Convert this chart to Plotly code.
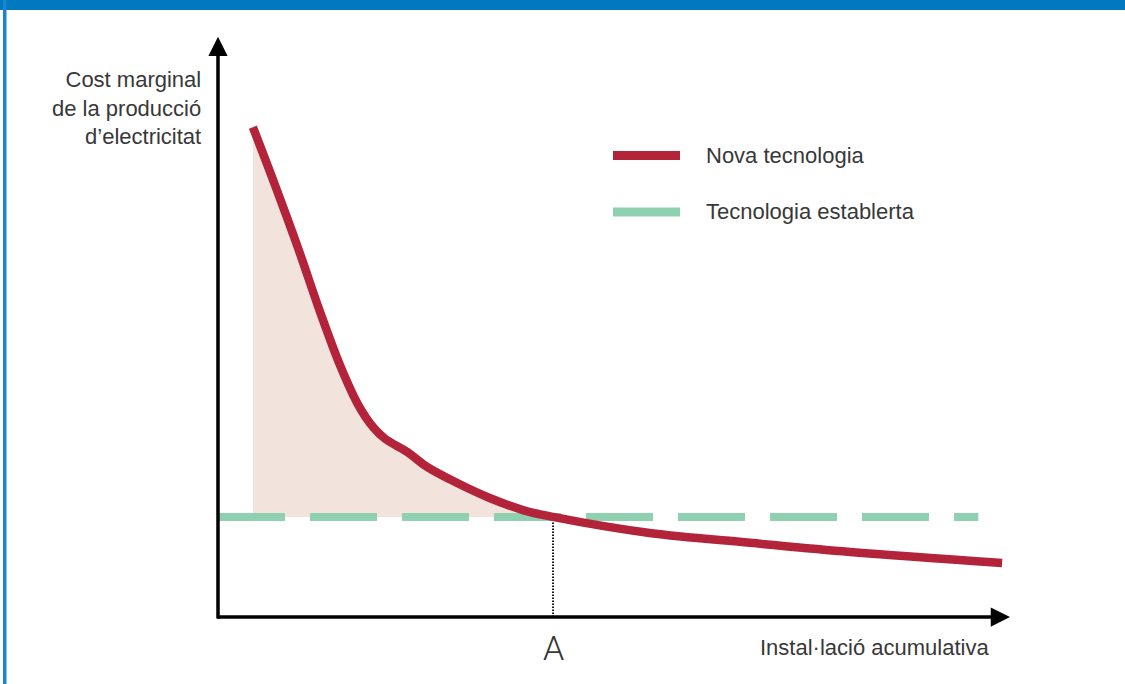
import plotly.graph_objects as go

# ---------------- data (arbitrary units) ----------------
install = [4.4, 7.2, 10.1, 12.9, 15.4, 17.7, 19.6, 21.1, 23.9, 26.4, 30.2, 34.3,
           38.5, 42.3, 54.5, 67.2, 79.8, 99.0]
cost_new = [85.2, 75.1, 64.2, 53.0, 43.8, 36.9, 33.0, 31.0, 28.7, 26.1, 23.3, 20.7,
            18.6, 17.4, 14.6, 12.9, 11.3, 9.4]
cost_established = 17.4
established_x = [0, 96.0]
point_A = 42.3
series_names = ["Nova tecnologia", "Tecnologia establerta"]
y_label = ["Cost marginal", "de la producció", "d’electricitat"]
x_label = "Instal·lació acumulativa"
A_label = "A"
x_axis_end = 100.0
y_axis_end = 100.9

# ---------------- style ----------------
RED = "#b3243a"
GREEN = "#8fd0b1"
FILL = "#f2e4dd"
BLUE = "#0079c1"
TXT = "#383838"
FONT = "Liberation Sans, Arial, sans-serif"

W, H = 1125, 684
L, R, T, B = 208, 105, 30, 57
XR = [-1.263, 101.263]
YR = [-1.739, 102.087]


def pxx(p):
    return (p - L) / (W - L - R)


def pyy(p):
    return (H - B - p) / (H - T - B)


n_fill = install.index(point_A) + 1

fig = go.Figure()

# shaded area between new technology curve and established cost
fig.add_trace(go.Scatter(x=[install[0], point_A], y=[cost_established, cost_established],
                         mode="lines", line=dict(width=0, color=FILL),
                         showlegend=False, hoverinfo="skip"))
fig.add_trace(go.Scatter(x=install[:n_fill], y=cost_new[:n_fill], mode="lines",
                         line=dict(width=0, color=FILL, shape="spline", smoothing=1.0),
                         fill="tonexty", fillcolor=FILL,
                         showlegend=False, hoverinfo="skip"))

# dotted vertical at A
fig.add_trace(go.Scatter(x=[point_A, point_A], y=[0, cost_established], mode="lines",
                         line=dict(width=1.8, color="black", dash="1.5px,1.5px"),
                         showlegend=False, hoverinfo="skip"))

# established technology
fig.add_trace(go.Scatter(x=established_x, y=[cost_established] * len(established_x),
                         mode="lines", name=series_names[1],
                         line=dict(width=8, color=GREEN, dash="67px,25px"),
                         showlegend=False))

# new technology
fig.add_trace(go.Scatter(x=install, y=cost_new, mode="lines", name=series_names[0],
                         line=dict(width=8.5, color=RED, shape="spline", smoothing=1.0),
                         showlegend=False))

annotations = []
# axis arrows
annotations.append(dict(x=0, y=y_axis_end, ax=0, ay=-0.5, xref="x", yref="y",
                        axref="x", ayref="y", showarrow=True, arrowhead=2,
                        arrowsize=1.1, arrowwidth=3.5, arrowcolor="black",
                        standoff=0, text=""))
annotations.append(dict(x=x_axis_end, y=0, ax=-0.3, ay=0, xref="x", yref="y",
                        axref="x", ayref="y", showarrow=True, arrowhead=2,
                        arrowsize=1.1, arrowwidth=3.5, arrowcolor="black",
                        standoff=0, text=""))

# y-axis label
annotations.append(dict(x=pxx(203), y=pyy(108), xref="paper", yref="paper",
                        text="<br>".join(y_label), showarrow=False,
                        xanchor="right", yanchor="middle", align="right",
                        font=dict(family=FONT, size=22, color=TXT)))
# x-axis label
annotations.append(dict(x=pxx(991), y=pyy(647), xref="paper", yref="paper",
                        text=x_label, showarrow=False, xanchor="right",
                        yanchor="middle", font=dict(family=FONT, size=22, color=TXT)))
# A label
annotations.append(dict(x=point_A, y=pyy(648), xref="x", yref="paper",
                        text=A_label, showarrow=False, xanchor="center",
                        yanchor="middle",
                        font=dict(family="Roboto, Liberation Sans", size=34,
                                  color=TXT, weight=300)))
# legend texts
for name, py in zip(series_names, [155, 212]):
    annotations.append(dict(x=pxx(704), y=pyy(py), xref="paper", yref="paper",
                            text=name, showarrow=False, xanchor="left",
                            yanchor="middle",
                            font=dict(family=FONT, size=22, color=TXT)))

shapes = []
# legend bars
for col, py in zip([RED, GREEN], [155.5, 212]):
    shapes.append(dict(type="rect", xref="paper", yref="paper",
                       x0=pxx(613), x1=pxx(680), y0=pyy(py - 4.5), y1=pyy(py + 4.5),
                       fillcolor=col, line=dict(width=0)))
# frame: top band and left border
shapes.append(dict(type="rect", xref="paper", yref="paper",
                   x0=pxx(0), x1=pxx(W), y0=pyy(10), y1=pyy(0),
                   fillcolor=BLUE, line=dict(width=0), layer="above"))
shapes.append(dict(type="rect", xref="paper", yref="paper",
                   x0=pxx(3), x1=pxx(6.5), y0=pyy(H), y1=pyy(0),
                   fillcolor="#1a85cc", line=dict(width=0), layer="above"))

fig.update_layout(
    width=W, height=H,
    margin=dict(l=L, r=R, t=T, b=B, pad=0),
    paper_bgcolor="white", plot_bgcolor="white",
    xaxis=dict(range=XR, visible=False, fixedrange=True),
    yaxis=dict(range=YR, visible=False, fixedrange=True),
    showlegend=False,
    hovermode=False,
    annotations=annotations,
    shapes=shapes,
)

fig.write_html("out.html",
               config={"displayModeBar": False, "staticPlot": True},
               post_script="document.body.style.margin='0';"
                           "document.body.style.overflow='hidden';")
